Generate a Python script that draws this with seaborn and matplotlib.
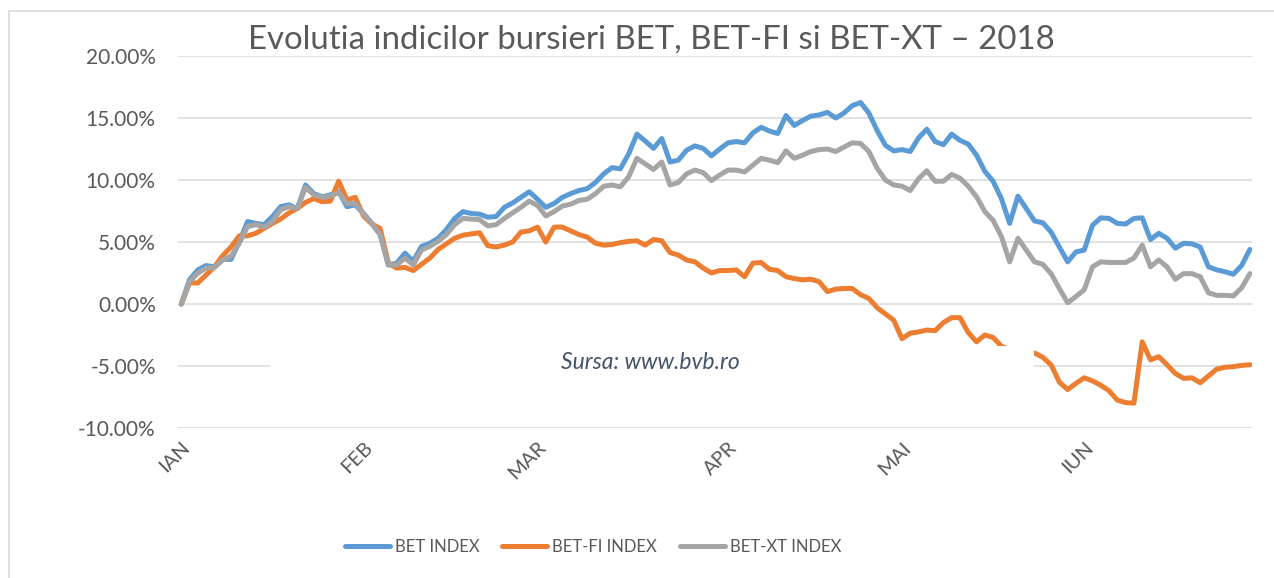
import matplotlib
matplotlib.use("Agg")
import matplotlib.pyplot as plt
import matplotlib.transforms as mtransforms
from matplotlib.lines import Line2D
from matplotlib.patches import Rectangle
import numpy as np
import pandas as pd
import seaborn as sns

# daily change vs. start of year, in percent
bet = [
    0, 1.96, 2.75, 3.1, 3.0, 3.6, 3.6, 5.0, 6.65, 6.5,
    6.4, 7.05, 7.85, 8.0, 7.7, 9.6, 8.9, 8.65, 8.8, 9.05,
    7.85, 8.0, 7.3, 6.5, 5.6, 3.15, 3.3, 4.1, 3.45, 4.65,
    4.9, 5.3, 6.0, 6.9, 7.45, 7.3, 7.25, 7.0, 7.05, 7.8,
    8.15, 8.6, 9.05, 8.45, 7.8, 8.1, 8.6, 8.9, 9.15, 9.3,
    9.8, 10.5, 11.0, 10.9, 12.1, 13.7, 13.15, 12.55, 13.35, 11.45,
    11.6, 12.4, 12.75, 12.55, 11.95, 12.5, 13.0, 13.1, 13.0, 13.8,
    14.25, 13.95, 13.75, 15.2, 14.4, 14.8, 15.15, 15.25, 15.45, 15.0,
    15.4, 16.0, 16.25, 15.4, 14.0, 12.8, 12.35, 12.45, 12.3, 13.4,
    14.1, 13.1, 12.85, 13.7, 13.2, 12.9, 12.0, 10.7, 9.9, 8.5,
    6.5, 8.7, 7.7, 6.7, 6.55, 5.8, 4.6, 3.4, 4.2, 4.35,
    6.35, 6.95, 6.9, 6.5, 6.45, 6.9, 6.95, 5.2, 5.7, 5.3,
    4.5, 4.9, 4.85, 4.6, 3.0, 2.75, 2.6, 2.4, 3.1, 4.4,
]
bet_fi = [
    0, 1.7, 1.7, 2.35, 3.0, 3.9, 4.6, 5.5, 5.5, 5.7,
    6.1, 6.5, 6.85, 7.35, 7.7, 8.2, 8.5, 8.25, 8.3, 9.9,
    8.4, 8.6, 7.1, 6.45, 6.1, 3.3, 2.9, 2.95, 2.7, 3.2,
    3.7, 4.4, 4.85, 5.3, 5.55, 5.65, 5.75, 4.7, 4.6, 4.75,
    5.0, 5.8, 5.9, 6.2, 5.0, 6.2, 6.2, 5.9, 5.6, 5.4,
    4.9, 4.75, 4.8, 4.95, 5.05, 5.1, 4.75, 5.2, 5.1, 4.15,
    3.95, 3.55, 3.4, 2.9, 2.5, 2.7, 2.7, 2.75, 2.2, 3.3,
    3.35, 2.8, 2.7, 2.2, 2.05, 1.95, 2.0, 1.8, 1.0, 1.2,
    1.25, 1.25, 0.75, 0.45, -0.3, -0.8, -1.3, -2.8, -2.35, -2.25,
    -2.1, -2.15, -1.5, -1.1, -1.1, -2.3, -3.05, -2.5, -2.7, -3.4,
    -3.7, -3.6, -3.8, -3.95, -4.3, -4.9, -6.3, -6.9, -6.4, -5.95,
    -6.2, -6.55, -7.0, -7.75, -7.95, -8.0, -3.05, -4.5, -4.25, -4.9,
    -5.6, -6.0, -5.95, -6.35, -5.8, -5.25, -5.1, -5.05, -4.95, -4.9,
]
bet_xt = [
    0, 1.82, 2.5, 2.9, 2.95, 3.55, 3.85, 4.9, 6.25, 6.4,
    6.2, 6.65, 7.6, 7.85, 7.7, 9.4, 8.8, 8.6, 8.7, 9.0,
    8.1, 8.1, 7.3, 6.5, 5.6, 3.15, 3.15, 3.7, 3.15, 4.35,
    4.65, 5.05, 5.6, 6.4, 6.9, 6.85, 6.8, 6.3, 6.4, 6.9,
    7.35, 7.8, 8.3, 7.95, 7.1, 7.45, 7.9, 8.05, 8.35, 8.45,
    8.9, 9.5, 9.6, 9.45, 10.25, 11.75, 11.3, 10.85, 11.45, 9.6,
    9.8, 10.5, 10.8, 10.6, 9.95, 10.4, 10.8, 10.8, 10.65, 11.2,
    11.75, 11.6, 11.4, 12.35, 11.75, 12.0, 12.3, 12.45, 12.5, 12.3,
    12.65, 13.0, 12.95, 12.3, 10.95, 10.0, 9.6, 9.5, 9.15, 10.1,
    10.75, 9.9, 9.9, 10.45, 10.15, 9.5, 8.65, 7.45, 6.75, 5.45,
    3.4, 5.3, 4.35, 3.4, 3.2, 2.45, 1.25, 0.1, 0.6, 1.15,
    3.0, 3.4, 3.35, 3.35, 3.35, 3.7, 4.75, 3.0, 3.55, 3.0,
    2.0, 2.45, 2.45, 2.2, 0.9, 0.7, 0.7, 0.65, 1.3, 2.45,
]

series_names = ["BET INDEX", "BET-FI INDEX", "BET-XT INDEX"]
colors = ["#5B9BD5", "#ED7D31", "#A5A5A5"]
months = ["IAN", "FEB", "MAR", "APR", "MAI", "IUN"]
month_start = [0, 22, 43, 66, 87, 109]  # index of first trading day per month
y_ticks = [-10, -5, 0, 5, 10, 15, 20]

title = "Evolutia indicilor bursieri BET, BET-FI si BET-XT \u2013 2018"
source = "Sursa: www.bvb.ro"

df = pd.DataFrame({"zi": np.arange(len(bet))})
for name, vals in zip(series_names, [bet, bet_fi, bet_xt]):
    df[name] = vals
long = df.melt(id_vars="zi", var_name="indice", value_name="val")

sns.set_style("white")
plt.rcParams["font.family"] = ["Lato", "DejaVu Sans"]
txt_color = "#595959"

fig = plt.figure(figsize=(12.74, 5.78), dpi=100)
ax = fig.add_axes([0.1397, 0.2595, 0.843, 0.6436])

sns.lineplot(
    data=long,
    x="zi",
    y="val",
    hue="indice",
    hue_order=series_names,
    palette=colors,
    linewidth=3.6,
    solid_capstyle="round",
    solid_joinstyle="round",
    legend=False,
    ax=ax,
)

ax.set_xlim(-0.4, 129.25)
ax.set_ylim(-10, 20)
ax.set_xlabel("")
ax.set_ylabel("")
ax.set_yticks(y_ticks)
ax.set_yticklabels([f"{v:.2f}%" for v in y_ticks], fontsize=15, color=txt_color)
ax.yaxis.grid(True, color="#D9D9D9", linewidth=1.1)
ax.xaxis.grid(False)
ax.set_axisbelow(True)
sns.despine(ax=ax, left=True, bottom=True)
ax.tick_params(axis="y", length=0, pad=16)
ax.tick_params(axis="x", length=0, pad=12)

ax.set_xticks(month_start)
ax.set_xticklabels(months, rotation=45, ha="right", va="center",
                   rotation_mode="anchor", fontsize=14.5, color=txt_color)
shift = mtransforms.ScaledTranslation(6 / 100, 0, fig.dpi_scale_trans)
for lab in ax.get_xticklabels():
    lab.set_transform(lab.get_transform() + shift)

# white text box with the source note, sitting over the lines
ax.add_patch(Rectangle((0.0857, 0.113), 0.711, 0.107, transform=ax.transAxes,
                       facecolor="white", edgecolor="none", zorder=5))
ax.text(0.440, 0.177, source, transform=ax.transAxes, ha="center", va="center",
        fontsize=16.5, style="italic", color="#44546A", zorder=6)

fig.text(651 / 1274, 1 - 40 / 578, title, ha="center", va="center",
         fontsize=23.8, color=txt_color)

handles = [Line2D([], [], color=c, linewidth=3.6, solid_capstyle="round") for c in colors]
leg = fig.legend(handles, series_names, loc="center",
                 bbox_to_anchor=(593 / 1274, 1 - 547 / 578), ncol=3, frameon=False,
                 fontsize=12, handlelength=2.7, handletextpad=0.3, columnspacing=1.35)
for t in leg.get_texts():
    t.set_color(txt_color)

# chart area border (only left and top edges fall inside the image)
fig.add_artist(Rectangle((9 / 1274, -0.2), 1.2, 1.2 - 11 / 578,
                         transform=fig.transFigure, fill=False,
                         edgecolor="#D9D9D9", linewidth=1.2))

fig.savefig("out.png", dpi=100)
